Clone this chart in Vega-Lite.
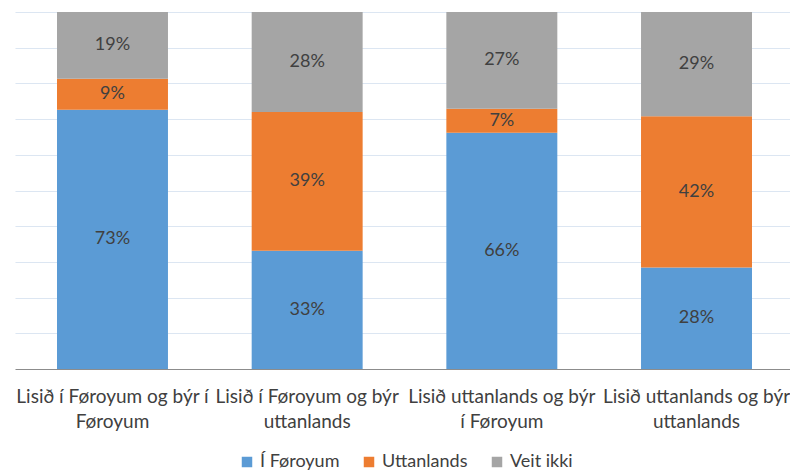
{
  "$schema": "https://vega.github.io/schema/vega-lite/v6.json",
  "autosize": "none",
  "width": 775,
  "height": 357,
  "padding": {"left": 15, "top": 12, "right": 0, "bottom": 103},
  "background": "white",
  "config": {
    "font": "Lato",
    "view": {"stroke": null}
  },
  "data": {
    "values": [
      {"group": "Lisið í Føroyum og býr í|Føroyum", "answer": "Í Føroyum", "ord": 1, "share": 0.726},
      {"group": "Lisið í Føroyum og býr í|Føroyum", "answer": "Uttanlands", "ord": 2, "share": 0.087},
      {"group": "Lisið í Føroyum og býr í|Føroyum", "answer": "Veit ikki", "ord": 3, "share": 0.187},
      {"group": "Lisið í Føroyum og býr|uttanlands", "answer": "Í Føroyum", "ord": 1, "share": 0.331},
      {"group": "Lisið í Føroyum og býr|uttanlands", "answer": "Uttanlands", "ord": 2, "share": 0.389},
      {"group": "Lisið í Føroyum og býr|uttanlands", "answer": "Veit ikki", "ord": 3, "share": 0.280},
      {"group": "Lisið uttanlands og býr|í Føroyum", "answer": "Í Føroyum", "ord": 1, "share": 0.662},
      {"group": "Lisið uttanlands og býr|í Føroyum", "answer": "Uttanlands", "ord": 2, "share": 0.067},
      {"group": "Lisið uttanlands og býr|í Føroyum", "answer": "Veit ikki", "ord": 3, "share": 0.271},
      {"group": "Lisið uttanlands og býr|uttanlands", "answer": "Í Føroyum", "ord": 1, "share": 0.284},
      {"group": "Lisið uttanlands og býr|uttanlands", "answer": "Uttanlands", "ord": 2, "share": 0.424},
      {"group": "Lisið uttanlands og býr|uttanlands", "answer": "Veit ikki", "ord": 3, "share": 0.292}
    ]
  },
  "transform": [
    {"stack": "share", "groupby": ["group"], "sort": [{"field": "ord", "order": "ascending"}], "as": ["y0", "y1"]},
    {"calculate": "(datum.y0 + datum.y1) / 2", "as": "ymid"}
  ],
  "encoding": {
    "x": {
      "field": "group",
      "type": "nominal",
      "sort": null,
      "scale": {"paddingInner": 0.43, "paddingOuter": 0.2055, "align": 0.525},
      "axis": {
        "title": null,
        "labelAngle": 0,
        "labelExpr": "split(datum.label, '|')",
        "labelLimit": 0,
        "labelFontSize": 19,
        "labelColor": "#404040",
        "labelLineHeight": 25,
        "labelPadding": 18,
        "labelBaseline": "top",
        "ticks": false,
        "domainColor": "#8c8c8c",
        "domainWidth": 1.2,
        "grid": false
      }
    }
  },
  "layer": [
    {
      "mark": {"type": "bar"},
      "encoding": {
        "y": {
          "field": "y0",
          "type": "quantitative",
          "scale": {"domain": [0, 1]},
          "axis": {
            "title": null,
            "labels": false,
            "ticks": false,
            "domain": false,
            "tickCount": 10,
            "values": [0.1, 0.2, 0.3, 0.4, 0.5, 0.6, 0.7, 0.8, 0.9, 1.0],
            "gridColor": "#dce6f2",
            "gridWidth": 1.2
          }
        },
        "y2": {"field": "y1"},
        "color": {
          "field": "answer",
          "type": "nominal",
          "sort": ["Í Føroyum", "Uttanlands", "Veit ikki"],
          "scale": {"domain": ["Í Føroyum", "Uttanlands", "Veit ikki"], "range": ["#5b9bd5", "#ed7d31", "#a5a5a5"]},
          "legend": {
            "title": null,
            "orient": "none",
            "legendX": 223,
            "legendY": 441,
            "direction": "horizontal",
            "symbolType": "square",
            "symbolSize": 110,
            "symbolStrokeWidth": 0,
            "labelFontSize": 18,
            "labelColor": "#404040",
            "labelOffset": 4,
            "columnPadding": 20
          }
        }
      }
    },
    {
      "mark": {"type": "text", "fontSize": 18, "color": "#404040", "baseline": "middle"},
      "encoding": {
        "y": {"field": "ymid", "type": "quantitative"},
        "text": {"field": "share", "type": "quantitative", "format": ".0%"}
      }
    }
  ]
}
